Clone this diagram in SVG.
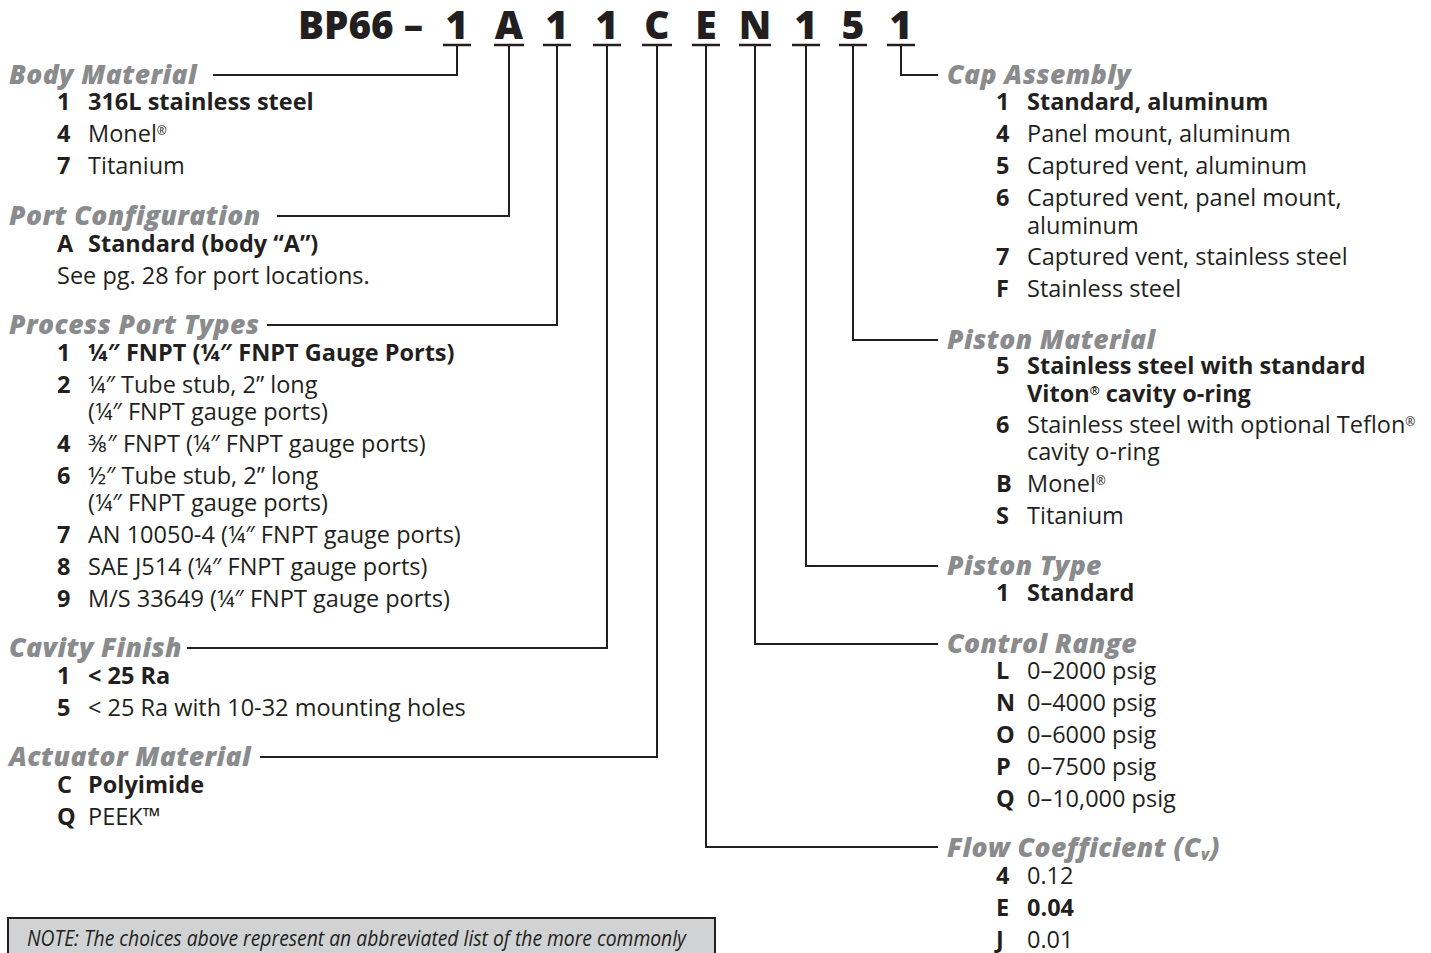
<svg xmlns="http://www.w3.org/2000/svg" width="1431" height="953" viewBox="0 0 1431 953">
<style>
  text { font-family: "Open Sans", "Liberation Sans", sans-serif; fill: #231f20; }
  .title { font-size: 39px; font-weight: 800; }
  .tc { font-size: 39px; font-weight: 800; text-anchor: middle; }
  .hd { font-size: 26.5px; font-weight: 800; font-style: italic; fill: #8a8b8d; letter-spacing: 0.4px; }
  .it { font-size: 23.5px; }
  .b { font-weight: 700; }
  .reg { font-size: 12px; }
  .note { font-size: 22px; font-style: italic; }
  .ln { fill: none; stroke: #231f20; stroke-width: 2; }
  .ul { stroke: #231f20; stroke-width: 2.5; }
</style>

<g id="title">
  <text class="title" x="298" y="39" textLength="125" lengthAdjust="spacingAndGlyphs">BP66 –</text>
  <text class="tc" x="457" y="39">1</text>
  <text class="tc" x="509" y="39">A</text>
  <text class="tc" x="557" y="39">1</text>
  <text class="tc" x="607" y="39">1</text>
  <text class="tc" x="657" y="39">C</text>
  <text class="tc" x="706" y="39">E</text>
  <text class="tc" x="755" y="39">N</text>
  <text class="tc" x="806" y="39">1</text>
  <text class="tc" x="853" y="39">5</text>
  <text class="tc" x="901" y="39">1</text>
  <g class="ul">
    <line x1="443" y1="45" x2="471" y2="45"/>
    <line x1="494" y1="45" x2="524" y2="45"/>
    <line x1="543" y1="45" x2="571" y2="45"/>
    <line x1="593" y1="45" x2="621" y2="45"/>
    <line x1="642" y1="45" x2="672" y2="45"/>
    <line x1="692" y1="45" x2="720" y2="45"/>
    <line x1="739" y1="45" x2="771" y2="45"/>
    <line x1="792" y1="45" x2="820" y2="45"/>
    <line x1="839" y1="45" x2="867" y2="45"/>
    <line x1="887" y1="45" x2="915" y2="45"/>
  </g>
</g>

<g id="connectors">
  <path class="ln" d="M213,75 H457 V45"/>
  <path class="ln" d="M277,216 H509 V45"/>
  <path class="ln" d="M267,325 H557 V45"/>
  <path class="ln" d="M187,648 H607 V45"/>
  <path class="ln" d="M260,757 H657 V45"/>
  <path class="ln" d="M938,847 H706 V45"/>
  <path class="ln" d="M938,644 H755 V45"/>
  <path class="ln" d="M938,566 H806 V45"/>
  <path class="ln" d="M938,340 H853 V45"/>
  <path class="ln" d="M938,75 H901 V45"/>
</g>

<g id="body-material">
  <text class="hd" x="9" y="84">Body Material</text>
  <text class="it b" x="57" y="110">1</text><text class="it b" x="88" y="110">316L stainless steel</text>
  <text class="it b" x="57" y="142">4</text><text class="it" x="88" y="142">Monel<tspan class="reg" baseline-shift="60%">®</tspan></text>
  <text class="it b" x="57" y="174">7</text><text class="it" x="88" y="174">Titanium</text>
</g>

<g id="port-configuration">
  <text class="hd" x="9" y="225">Port Configuration</text>
  <text class="it b" x="57" y="252">A</text><text class="it b" x="88" y="252">Standard (body “A”)</text>
  <text class="it" x="57" y="284">See pg. 28 for port locations.</text>
</g>

<g id="process-port-types">
  <text class="hd" x="9" y="334">Process Port Types</text>
  <text class="it b" x="57" y="361">1</text><text class="it b" x="88" y="361">¼″ FNPT (¼″ FNPT Gauge Ports)</text>
  <text class="it b" x="57" y="393">2</text><text class="it" x="88" y="393">¼″ Tube stub, 2” long</text>
  <text class="it" x="88" y="420">(¼″ FNPT gauge ports)</text>
  <text class="it b" x="57" y="452">4</text><text class="it" x="88" y="452">⅜″ FNPT (¼″ FNPT gauge ports)</text>
  <text class="it b" x="57" y="484">6</text><text class="it" x="88" y="484">½″ Tube stub, 2” long</text>
  <text class="it" x="88" y="511">(¼″ FNPT gauge ports)</text>
  <text class="it b" x="57" y="543">7</text><text class="it" x="88" y="543">AN 10050-4 (¼″ FNPT gauge ports)</text>
  <text class="it b" x="57" y="575">8</text><text class="it" x="88" y="575">SAE J514 (¼″ FNPT gauge ports)</text>
  <text class="it b" x="57" y="607">9</text><text class="it" x="88" y="607">M/S 33649 (¼″ FNPT gauge ports)</text>
</g>

<g id="cavity-finish">
  <text class="hd" x="9" y="657">Cavity Finish</text>
  <text class="it b" x="57" y="684">1</text><text class="it b" x="88" y="684">&lt; 25 Ra</text>
  <text class="it b" x="57" y="716">5</text><text class="it" x="88" y="716">&lt; 25 Ra with 10-32 mounting holes</text>
</g>

<g id="actuator-material">
  <text class="hd" x="9" y="766">Actuator Material</text>
  <text class="it b" x="57" y="793">C</text><text class="it b" x="88" y="793">Polyimide</text>
  <text class="it b" x="57" y="825">Q</text><text class="it" x="88" y="825">PEEK™</text>
</g>

<g id="note">
  <rect x="8" y="918" width="707" height="45" fill="#d1d2d4" stroke="#231f20" stroke-width="2"/>
  <text class="note" x="27" y="946" textLength="659" lengthAdjust="spacingAndGlyphs">NOTE: The choices above represent an abbreviated list of the more commonly</text>
</g>

<g id="cap-assembly">
  <text class="hd" x="947" y="84">Cap Assembly</text>
  <text class="it b" x="996" y="110">1</text><text class="it b" x="1027" y="110">Standard, aluminum</text>
  <text class="it b" x="996" y="142">4</text><text class="it" x="1027" y="142">Panel mount, aluminum</text>
  <text class="it b" x="996" y="174">5</text><text class="it" x="1027" y="174">Captured vent, aluminum</text>
  <text class="it b" x="996" y="206">6</text><text class="it" x="1027" y="206">Captured vent, panel mount,</text>
  <text class="it" x="1027" y="234">aluminum</text>
  <text class="it b" x="996" y="265">7</text><text class="it" x="1027" y="265">Captured vent, stainless steel</text>
  <text class="it b" x="996" y="297">F</text><text class="it" x="1027" y="297">Stainless steel</text>
</g>

<g id="piston-material">
  <text class="hd" x="947" y="349">Piston Material</text>
  <text class="it b" x="996" y="374">5</text><text class="it b" x="1027" y="374">Stainless steel with standard</text>
  <text class="it b" x="1027" y="402">Viton<tspan class="reg" baseline-shift="60%">®</tspan> cavity o-ring</text>
  <text class="it b" x="996" y="433">6</text><text class="it" x="1027" y="433">Stainless steel with optional Teflon<tspan class="reg" baseline-shift="60%">®</tspan></text>
  <text class="it" x="1027" y="460">cavity o-ring</text>
  <text class="it b" x="996" y="492">B</text><text class="it" x="1027" y="492">Monel<tspan class="reg" baseline-shift="60%">®</tspan></text>
  <text class="it b" x="996" y="524">S</text><text class="it" x="1027" y="524">Titanium</text>
</g>

<g id="piston-type">
  <text class="hd" x="947" y="575">Piston Type</text>
  <text class="it b" x="996" y="601">1</text><text class="it b" x="1027" y="601">Standard</text>
</g>

<g id="control-range">
  <text class="hd" x="947" y="653">Control Range</text>
  <text class="it b" x="996" y="679">L</text><text class="it" x="1027" y="679">0–2000 psig</text>
  <text class="it b" x="996" y="711">N</text><text class="it" x="1027" y="711">0–4000 psig</text>
  <text class="it b" x="996" y="743">O</text><text class="it" x="1027" y="743">0–6000 psig</text>
  <text class="it b" x="996" y="775">P</text><text class="it" x="1027" y="775">0–7500 psig</text>
  <text class="it b" x="996" y="807">Q</text><text class="it" x="1027" y="807">0–10,000 psig</text>
</g>

<g id="flow-coefficient">
  <text class="hd" x="947" y="857">Flow Coefficient (C<tspan font-size="15" baseline-shift="-3">v</tspan>)</text>
  <text class="it b" x="996" y="884">4</text><text class="it" x="1027" y="884">0.12</text>
  <text class="it b" x="996" y="916">E</text><text class="it b" x="1027" y="916">0.04</text>
  <text class="it b" x="996" y="948">J</text><text class="it" x="1027" y="948">0.01</text>
</g>
</svg>
